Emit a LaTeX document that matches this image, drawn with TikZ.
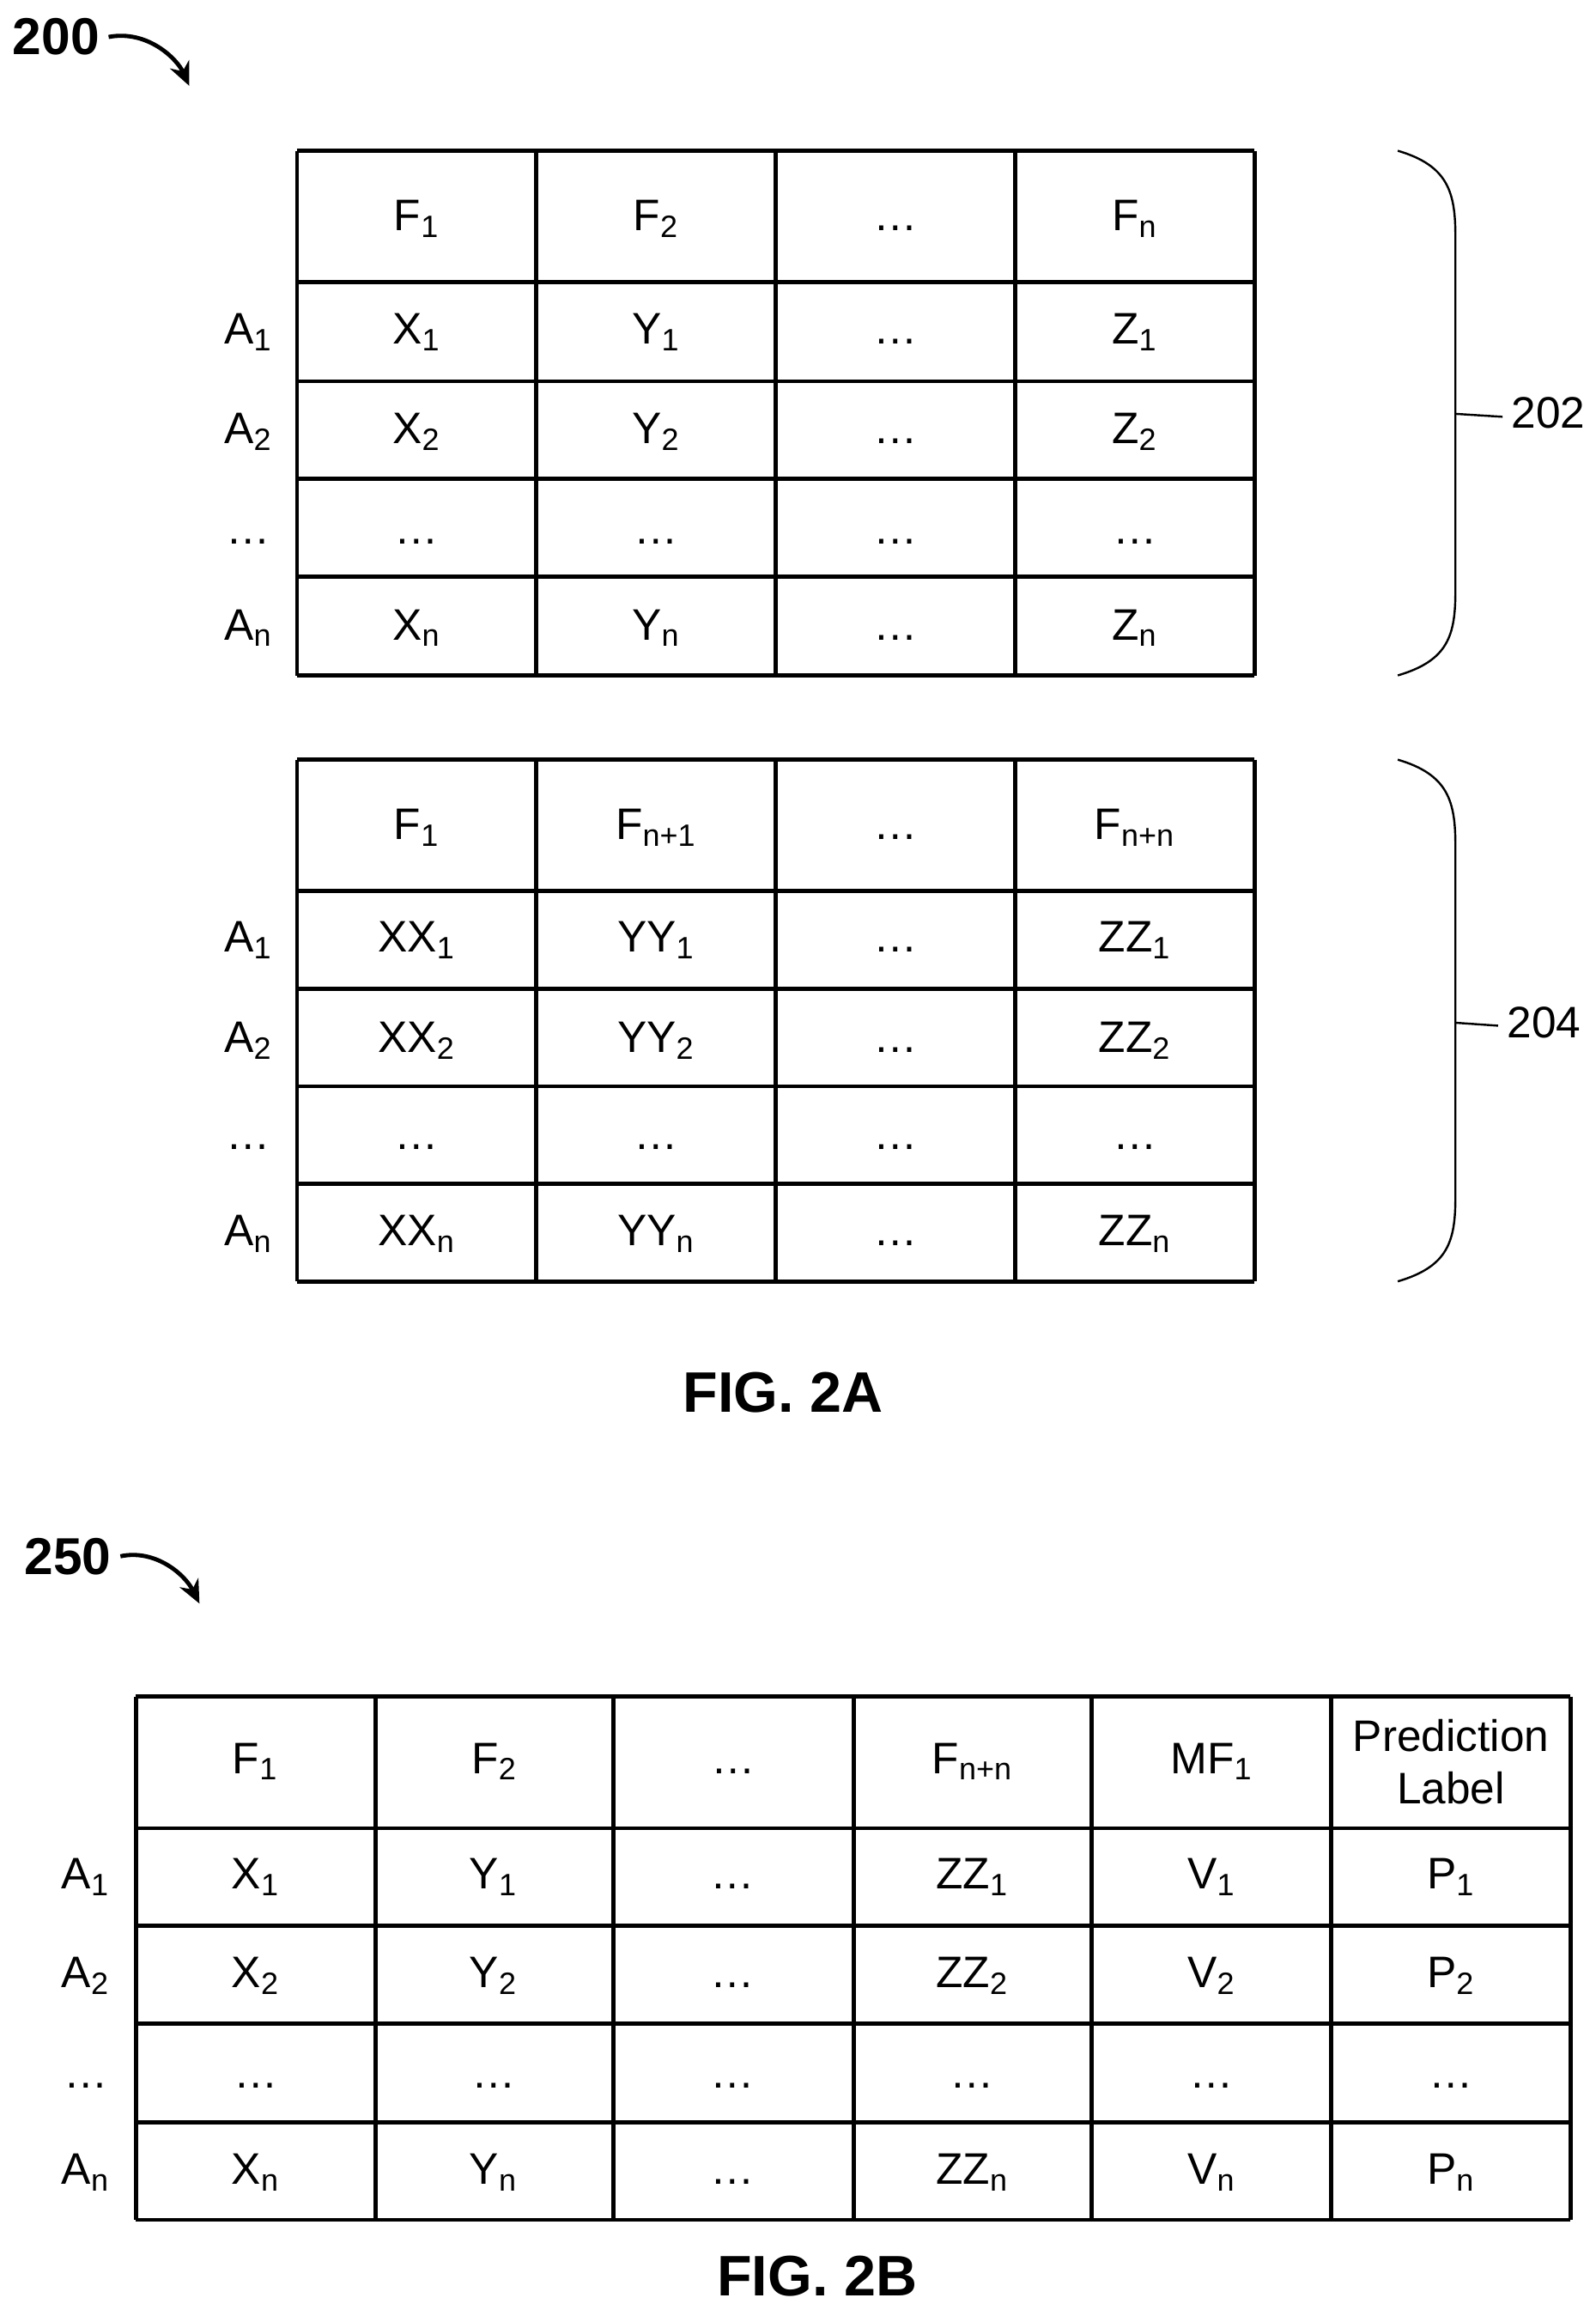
\documentclass[tikz,border=0pt]{standalone}
\usepackage{fontspec}
\setmainfont{Liberation Sans}
\newcommand{\subs}[1]{\textsubscript{#1}}
\tikzset{
    cell/.style={font=\fontsize{17}{20}\selectfont, align=center, text height=12pt, text depth=3pt},
    rowlab/.style={font=\fontsize{17}{20}\selectfont, text height=12pt, text depth=3pt},
    grid/.style={line width=1.6pt},
    reflab/.style={font=\bfseries\fontsize{20}{24}\selectfont},
    figlab/.style={font=\bfseries\fontsize{22}{26}\selectfont},
    refarrow/.style={-{Stealth[length=9pt,width=8pt]}, line width=1.6pt},
}
\usetikzlibrary{arrows.meta}
\begin{document}
\begin{tikzpicture}[x=0.02cm, y=-0.02cm]
    \useasboundingbox (0,0) rectangle (1080,1563);

    %% FIG. 2A

    % Reference 200
    \node[reflab] (r200) at (38,25) {200};
    \coordinate (r200tip) at (128,58);
    \draw[refarrow] (r200.east) .. controls (100,20) and (120,40) .. (r200tip);

    % Table 202
    \begin{scope}
        \foreach \y in {102,191,258,324,390,457} \draw[grid] (201,\y) -- (849,\y);
        \foreach \x in {201,363,525,687,849} \draw[grid] (\x,102) -- (\x,457);
        \foreach \t [count=\i] in {F\subs{1},F\subs{2},\dots,F\subs{n}}
            \node[cell] (ta-h\i) at (120+162*\i,148) {\t};
        \foreach \y/\l/\a/\b/\c [count=\j] in {
            225/A\subs{1}/X\subs{1}/Y\subs{1}/Z\subs{1},
            292/A\subs{2}/X\subs{2}/Y\subs{2}/Z\subs{2},
            360/\dots/\dots/\dots/\dots,
            425/A\subs{n}/X\subs{n}/Y\subs{n}/Z\subs{n}} {
            \node[rowlab] (ta-r\j) at (168,\y) {\l};
            \node[cell] (ta-\j a) at (282,\y) {\a};
            \node[cell] (ta-\j b) at (444,\y) {\b};
            \node[cell] (ta-\j c) at (606,\y) {\dots};
            \node[cell] (ta-\j d) at (768,\y) {\c};
        }
    \end{scope}

    % Brace 202
    \draw[line width=0.8pt] (946,102) .. controls (980,112) and (985,130) .. (985,160)
        -- (985,400) .. controls (985,430) and (980,447) .. (946,457);
    \coordinate (b202) at (985,280);
    \node[cell] (l202) at (1048,282) {202};
    \draw[line width=0.8pt] (b202) -- (l202.west);

    % Table 204
    \begin{scope}
        \foreach \y in {514,603,669,735,801,867} \draw[grid] (201,\y) -- (849,\y);
        \foreach \x in {201,363,525,687,849} \draw[grid] (\x,514) -- (\x,867);
        \foreach \t [count=\i] in {F\subs{1},F\subs{n+1},\dots,F\subs{n+n}}
            \node[cell] (tb-h\i) at (120+162*\i,560) {\t};
        \foreach \y/\l/\a/\b/\c [count=\j] in {
            636/A\subs{1}/XX\subs{1}/YY\subs{1}/ZZ\subs{1},
            704/A\subs{2}/XX\subs{2}/YY\subs{2}/ZZ\subs{2},
            770/\dots/\dots/\dots/\dots,
            835/A\subs{n}/XX\subs{n}/YY\subs{n}/ZZ\subs{n}} {
            \node[rowlab] (tb-r\j) at (168,\y) {\l};
            \node[cell] (tb-\j a) at (282,\y) {\a};
            \node[cell] (tb-\j b) at (444,\y) {\b};
            \node[cell] (tb-\j c) at (606,\y) {\dots};
            \node[cell] (tb-\j d) at (768,\y) {\c};
        }
    \end{scope}

    % Brace 204
    \draw[line width=0.8pt] (946,514) .. controls (980,524) and (985,542) .. (985,572)
        -- (985,810) .. controls (985,840) and (980,857) .. (946,867);
    \coordinate (b204) at (985,692);
    \node[cell] (l204) at (1045,694) {204};
    \draw[line width=0.8pt] (b204) -- (l204.west);

    \node[figlab] (fig2a) at (530,942) {FIG. 2A};

    %% FIG. 2B

    % Reference 250
    \node[reflab] (r250) at (46,1053) {250};
    \coordinate (r250tip) at (135,1085);
    \draw[refarrow] (r250.east) .. controls (105,1048) and (125,1065) .. (r250tip);

    % Table 250
    \begin{scope}
        \foreach \y in {1148,1237,1303,1369,1436,1502} \draw[grid] (92,\y) -- (1063,\y);
        \foreach \x in {92,254,415,578,739,901,1063} \draw[grid] (\x,1148) -- (\x,1502);
        \foreach \t [count=\i] in {F\subs{1},F\subs{2},\dots,F\subs{n+n},MF\subs{1}}
            \node[cell] (tc-h\i) at (11+161.8*\i,1192) {\t};
        \node[font=\fontsize{17}{20}\selectfont, align=center] (tc-h6) at (982,1192) {Prediction\\Label};
        \foreach \y/\l/\a/\b/\c/\d/\e [count=\j] in {
            1270/A\subs{1}/X\subs{1}/Y\subs{1}/ZZ\subs{1}/V\subs{1}/P\subs{1},
            1337/A\subs{2}/X\subs{2}/Y\subs{2}/ZZ\subs{2}/V\subs{2}/P\subs{2},
            1405/\dots/\dots/\dots/\dots/\dots/\dots,
            1470/A\subs{n}/X\subs{n}/Y\subs{n}/ZZ\subs{n}/V\subs{n}/P\subs{n}} {
            \node[rowlab] (tc-r\j) at (58,\y) {\l};
            \node[cell] (tc-\j a) at (173,\y) {\a};
            \node[cell] (tc-\j b) at (334,\y) {\b};
            \node[cell] (tc-\j c) at (496,\y) {\dots};
            \node[cell] (tc-\j d) at (658,\y) {\c};
            \node[cell] (tc-\j e) at (820,\y) {\d};
            \node[cell] (tc-\j f) at (982,\y) {\e};
        }
    \end{scope}

    \node[figlab] (fig2b) at (553,1540) {FIG. 2B};

\end{tikzpicture}
\end{document}
